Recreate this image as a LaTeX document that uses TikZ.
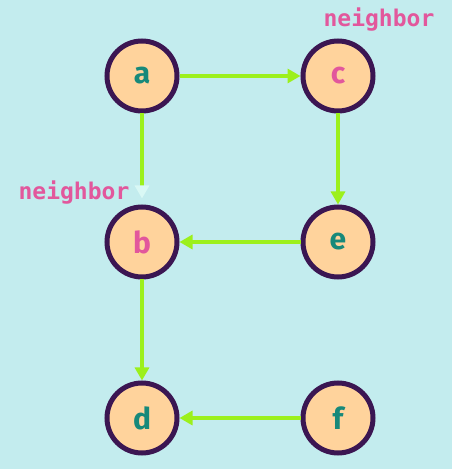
\documentclass[tikz,border=0pt]{standalone}
\usepackage{fontspec}
\setmainfont{Fira Sans}
\newfontfamily\monofont{DejaVu Sans Mono}
\usetikzlibrary{positioning,arrows.meta}
\definecolor{fondo}{HTML}{C3ECEE}
\definecolor{melocoton}{HTML}{FFD39C}
\definecolor{morado}{HTML}{3B1652}
\definecolor{lima}{HTML}{9CF01C}
\definecolor{verde}{HTML}{17897A}
\definecolor{rosa}{HTML}{E2579C}
\definecolor{brillo}{HTML}{D9F8F5}
\tikzset{
  vertice/.style={circle, draw=morado, fill=melocoton, line width=5pt, minimum size=70pt, inner sep=0pt, font=\fontsize{30}{30}\selectfont\bfseries},
  arista/.style={lima, line width=3.2pt, -{Triangle[length=13pt, width=14pt]}},
  vecino/.style={rosa, font=\monofont\fontsize{23}{23}\selectfont\bfseries}
}
\begin{document}
\begin{tikzpicture}[x=1pt, y=1pt]
        \fill[fondo] (0,0) rectangle (452,469);
        \useasboundingbox (0,0) rectangle (452,469);
        \node[vertice, text=verde] (a) at (142,393) {a};
        \node[vertice, text=rosa] (c) at (338,393) {c};
        \node[vertice, text=rosa] (b) at (142,227) {b};
        \node[vertice, text=verde] (e) at (338,227) {e};
        \node[vertice, text=verde] (d) at (142,51) {d};
        \node[vertice, text=verde] (f) at (338,51) {f};
        \draw[arista] (a) -- (c);
        \draw[arista] (c) -- (e);
        \draw[arista] (e) -- (b);
        \draw[arista] (b) -- (d);
        \draw[arista] (f) -- (d);
        \draw[lima, line width=3.2pt, -{Triangle[length=13pt, width=14pt, color=brillo]}, shorten >=6pt] (a) -- (b);
        \node[vecino] (nc) at (379,449) {neighbor};
        \node[vecino] (nb) at (74,276) {neighbor};
      \end{tikzpicture}
\end{document}
